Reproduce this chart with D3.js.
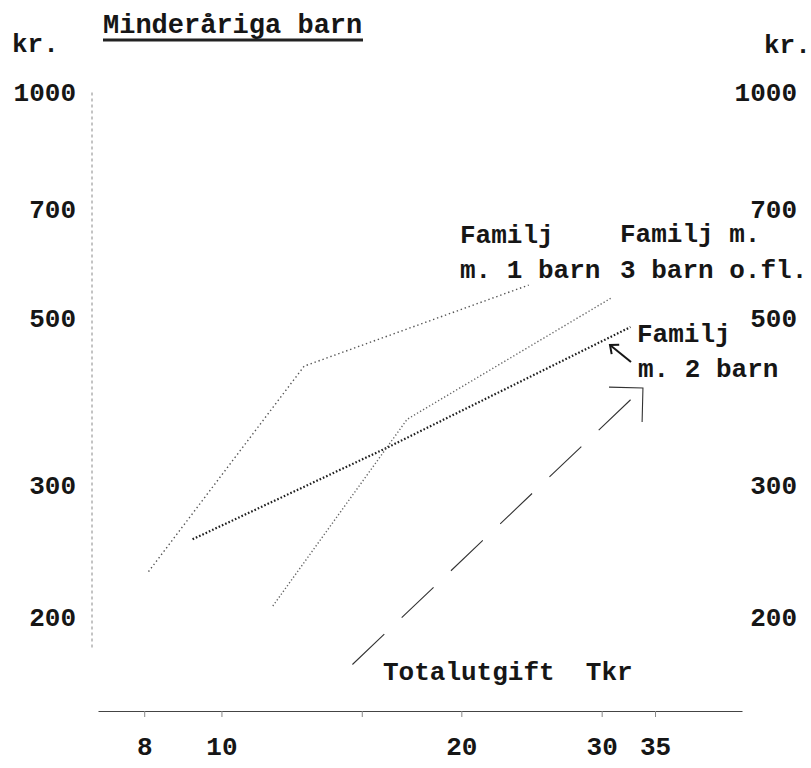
<!DOCTYPE html>
<html>
<head>
<meta charset="utf-8">
<script src="https://cdn.jsdelivr.net/npm/d3@7"></script>
<style>
  body { margin: 0; background: #fff; }
  text { font-family: 'Liberation Mono', 'Courier New', monospace; font-weight: bold; fill: #161616; }
</style>
</head>
<body>
<svg id="chart" width="811" height="768"></svg>
<script>
// Utgift för minderåriga barn (kr., log) mot totalutgift (Tkr, log)
const xTicks = [8, 10, 15, 20, 30, 35];
const xTickLabels = ["8", "10", "", "20", "30", "35"];
const yTicks = [200, 300, 500, 700, 1000];

// Familj m. 1 barn
const family1Tkr = [8.1, 12.7, 24.3];
const family1Kr = [230, 432, 554];
// Familj m. 2 barn
const family2Tkr = [9.2, 16.1, 32.6];
const family2Kr = [254, 336, 487];
// Familj m. 3 barn o.fl.
const family3Tkr = [11.6, 17.1, 30.8];
const family3Kr = [207, 367, 532];
// Riktningspil för totalutgiften
const totalTkr = [14.6, 33.8];
const totalKr = [173, 404];

const svg = d3.select("#chart");

const x = d3.scaleLog().domain([7, 45]).range([98, 742]);
const y = d3.scaleLog().domain([150, 1000]).range([711, 92.5]);

const defs = svg.append("defs");
defs.append("marker")
  .attr("id", "openArrow")
  .attr("markerUnits", "userSpaceOnUse")
  .attr("viewBox", "-30 -30 60 60")
  .attr("markerWidth", 60).attr("markerHeight", 60)
  .attr("refX", 0).attr("refY", 0)
  .attr("orient", "auto")
  .append("path")
  .attr("d", "M-24,-24 L0,0 L-24,24")
  .attr("fill", "none").attr("stroke", "#333").attr("stroke-width", 1.1);

defs.append("marker")
  .attr("id", "smallArrow")
  .attr("markerUnits", "userSpaceOnUse")
  .attr("viewBox", "-12 -12 24 24")
  .attr("markerWidth", 24).attr("markerHeight", 24)
  .attr("refX", 0).attr("refY", 0)
  .attr("orient", "auto")
  .append("path")
  .attr("d", "M-7,-6 L0,0 L-7,6")
  .attr("fill", "none").attr("stroke", "#161616").attr("stroke-width", 2);

// Title
svg.append("text").attr("x", 103).attr("y", 33).attr("font-size", 27).text("Minderåriga barn");
svg.append("line").attr("x1", 103).attr("x2", 363).attr("y1", 40).attr("y2", 40)
  .attr("stroke", "#222").attr("stroke-width", 2.8);

// Unit labels
svg.append("text").attr("x", 12).attr("y", 52).attr("font-size", 26).text("kr.");
svg.append("text").attr("x", 764).attr("y", 53).attr("font-size", 26).text("kr.");

// Left y axis
const yLeft = svg.append("g").attr("transform", "translate(92,0)")
  .call(d3.axisLeft(y).tickValues(yTicks).tickFormat(d3.format("d")).tickSize(0).tickPadding(16));
yLeft.select(".domain").remove();
yLeft.selectAll("text").attr("font-size", 26).style("font-family", "'Liberation Mono', monospace");
svg.append("line").attr("x1", 92).attr("x2", 92).attr("y1", y(1000)).attr("y2", y(182))
  .attr("stroke", "#888").attr("stroke-width", 1).attr("stroke-dasharray", "3 3");

// Right y axis (labels only)
const yRight = svg.append("g").attr("transform", "translate(797,0)")
  .call(d3.axisLeft(y).tickValues(yTicks).tickFormat(d3.format("d")).tickSize(0).tickPadding(0));
yRight.select(".domain").remove();
yRight.selectAll("text").attr("font-size", 26).style("font-family", "'Liberation Mono', monospace");

// x axis
const xAxis = svg.append("g").attr("transform", `translate(0,${y(150)})`)
  .call(d3.axisBottom(x).tickValues(xTicks).tickFormat((d, i) => xTickLabels[i])
    .tickSizeInner(6).tickSizeOuter(0).tickPadding(20));
xAxis.select(".domain").attr("stroke", "#444").attr("stroke-width", 1.2);
xAxis.selectAll(".tick line").attr("stroke", "#888");
xAxis.selectAll("text").attr("font-size", 26).style("font-family", "'Liberation Mono', monospace");

const line = d3.line().x(d => x(d[0])).y(d => y(d[1]));
const series = [
  { tkr: family1Tkr, kr: family1Kr, stroke: "#555", width: 1.4, dash: "1.4 2.8" },
  { tkr: family2Tkr, kr: family2Kr, stroke: "#1e1e1e", width: 2.2, dash: "1.6 2" },
  { tkr: family3Tkr, kr: family3Kr, stroke: "#666", width: 1.4, dash: "1.3 2.2" }
];
series.forEach(s => {
  svg.append("path")
    .datum(d3.zip(s.tkr, s.kr))
    .attr("d", line)
    .attr("fill", "none")
    .attr("stroke", s.stroke)
    .attr("stroke-width", s.width)
    .attr("stroke-dasharray", s.dash);
});

// Totalutgift direction arrow
svg.append("path")
  .datum(d3.zip(totalTkr, totalKr))
  .attr("d", line)
  .attr("fill", "none")
  .attr("stroke", "#333")
  .attr("stroke-width", 1.1)
  .attr("stroke-dasharray", "44 24")
  .attr("marker-end", "url(#openArrow)");

// Series labels
const labels = [
  { x: 460, y: 243, t: "Familj" },
  { x: 460, y: 278, t: "m. 1 barn" },
  { x: 620, y: 242, t: "Familj m." },
  { x: 620, y: 278, t: "3 barn o.fl." },
  { x: 637, y: 342, t: "Familj" },
  { x: 638, y: 377, t: "m. 2 barn" },
  { x: 383, y: 680, t: "Totalutgift  Tkr" }
];
svg.selectAll("text.lbl").data(labels).enter().append("text")
  .attr("class", "lbl")
  .attr("x", d => d.x).attr("y", d => d.y)
  .attr("font-size", 26)
  .attr("xml:space", "preserve")
  .style("white-space", "pre")
  .text(d => d.t);

// Pointer from the "m. 2 barn" label to its curve
svg.append("line").attr("x1", 631).attr("y1", 362).attr("x2", 610).attr("y2", 345)
  .attr("stroke", "#161616").attr("stroke-width", 2)
  .attr("marker-end", "url(#smallArrow)");
</script>
</body>
</html>
